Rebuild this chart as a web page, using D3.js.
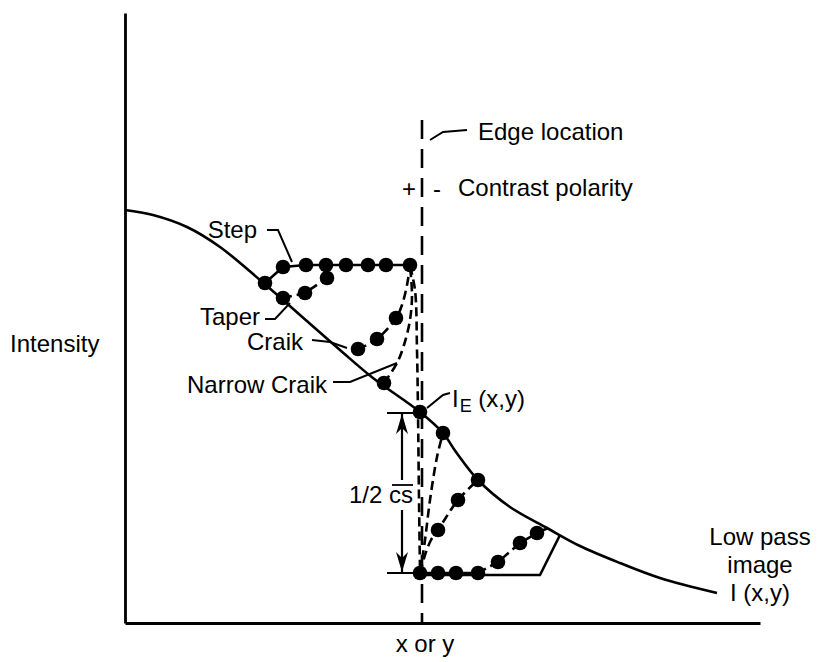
<!DOCTYPE html>
<html><head><meta charset="utf-8">
<script src="https://cdn.jsdelivr.net/npm/d3@7"></script>
<style>
body{margin:0;background:#fff}
text{font-family:"Liberation Sans",Arial,Helvetica,sans-serif;font-size:24px;fill:#000}
</style>
</head><body>
<svg id="c" width="820" height="662"></svg>
<script>
// ---- data (arbitrary units: position along x, intensity along y) ----
const lowPassX = [0, 5.6, 12.4, 19, 27, 35, 43, 49.6, 59, 63.6, 66.2, 70.6, 77, 84.4, 91, 99, 107, 118.4];
const lowPassY = [82.6, 81.6, 79.2, 75.2, 68.6, 61.6, 54.6, 49, 42.2, 38, 34.2, 28.6, 23.2, 19, 15.4, 12, 9, 6];

// + side (left of edge)
const stepLeftX = [28, 31.6, 36.2, 40.2, 44.2, 48.6, 52.2, 57];
const stepLeftY = [68, 71.2, 71.6, 71.6, 71.6, 71.6, 71.6, 71.6];
const taperLeftX = [31.6, 36, 40.4];
const taperLeftY = [65, 66, 69];
const taperLeftPathX = [31.6, 36, 40.4, 40.4];
const taperLeftPathY = [65, 66, 69, 71.4];
const craikLeftX = [46.6, 50.4, 54.2];
const craikLeftY = [54.8, 56.8, 61];
const craikLeftPathX = [46.6, 50.4, 54.2, 55.4, 56.4, 57];
const craikLeftPathY = [54.8, 56.8, 61, 63.6, 67.6, 71.4];
const narrowLeftX = [51.8];
const narrowLeftY = [48];
const narrowLeftPathX = [51.8, 54.4, 55.8, 57, 57.4, 57];
const narrowLeftPathY = [48, 52, 55.6, 60.6, 65.6, 71.4];
const stepDropX = [57, 58, 58.4, 58.6, 58.8, 59];
const stepDropY = [71.4, 66.6, 54.6, 42.2, 24.6, 10];

// - side (right of edge)
const taperRightX = [59, 62.6, 66.2, 70.6, 74.6, 79, 82.4];
const taperRightY = [10, 10, 10, 10, 12.2, 16, 18];
const taperRightSolidX = [59, 62.6, 66.2, 70.6];
const taperRightSolidY = [10, 10, 10, 10];
const taperRightDashX = [70.6, 74.6, 79, 82.4];
const taperRightDashY = [10, 12.2, 16, 18];
const taperRightEndX = [82.4, 84.6];
const taperRightEndY = [18, 19];
const stepRightX = [59, 83, 87];
const stepRightY = [9.6, 9.6, 17.6];
const craikRightX = [62.6, 66.6, 70.6];
const craikRightY = [18.6, 24.6, 28.6];
const craikRightPathX = [59, 60, 61.2, 62.6, 66.6, 70.6];
const craikRightPathY = [10, 13.6, 16.6, 18.6, 24.6, 28.6];
const narrowRightX = [63.6];
const narrowRightY = [38];
const narrowRightPathX = [59, 60, 61, 62.4, 63.6];
const narrowRightPathY = [10, 16.6, 24.6, 33.2, 38];

const edgeX = 59, edgeY = 42.2;          // I_E(x,y)
const edgeLineX = 59.4, edgeLineTop = 100.6;
const halfCsTop = 42, halfCsBottom = 10;  // 1/2 cs span

// ---- setup ----
const svg = d3.select("#c");
const x = d3.scaleLinear().domain([0, 127]).range([125, 760]);
const y = d3.scaleLinear().domain([0, 122]).range([623, 13]);
const zip = (a, b) => a.map((v, i) => [v, b[i]]);
const line = d3.line().x(d => x(d[0])).y(d => y(d[1]));
const smooth = d3.line().x(d => x(d[0])).y(d => y(d[1])).curve(d3.curveCatmullRom.alpha(0.5));

// axes (no ticks)
svg.append("g").attr("transform", "translate(125,0)")
  .call(d3.axisLeft(y).tickValues([]).tickSizeOuter(0))
  .call(g => g.select(".domain").attr("stroke", "#000").attr("stroke-width", 2.8));
svg.append("g").attr("transform", "translate(0,623)")
  .call(d3.axisBottom(x).tickValues([]).tickSizeOuter(0))
  .call(g => g.select(".domain").attr("stroke", "#000").attr("stroke-width", 2.8));

// edge location dashed line
svg.append("line")
  .attr("x1", x(edgeLineX)).attr("x2", x(edgeLineX))
  .attr("y1", y(edgeLineTop)).attr("y2", y(0))
  .attr("stroke", "#000").attr("stroke-width", 2.6).attr("stroke-dasharray", "19,10");

// low pass curve
svg.append("path").attr("d", smooth(zip(lowPassX, lowPassY)))
  .attr("fill", "none").attr("stroke", "#000").attr("stroke-width", 2.6);

const dash = "9,5";
function path(xs, ys, dashed, curved) {
  svg.append("path").attr("d", (curved ? smooth : line)(zip(xs, ys)))
    .attr("fill", "none").attr("stroke", "#000").attr("stroke-width", 2.6)
    .attr("stroke-dasharray", dashed ? dash : null);
}
path(stepLeftX, stepLeftY, false, false);
path(taperLeftPathX, taperLeftPathY, true, false);
path(craikLeftPathX, craikLeftPathY, true, true);
path(narrowLeftPathX, narrowLeftPathY, true, true);
path(stepDropX, stepDropY, true, true);
path(taperRightSolidX, taperRightSolidY, false, false);
path(taperRightDashX, taperRightDashY, true, false);
path(taperRightEndX, taperRightEndY, false, false);
path(stepRightX, stepRightY, false, false);
path(craikRightPathX, craikRightPathY, true, true);
path(narrowRightPathX, narrowRightPathY, true, true);

// dots
const dotSets = [
  [stepLeftX, stepLeftY], [taperLeftX, taperLeftY], [craikLeftX, craikLeftY],
  [narrowLeftX, narrowLeftY], [taperRightX, taperRightY], [craikRightX, craikRightY],
  [narrowRightX, narrowRightY], [[edgeX], [edgeY]]
];
dotSets.forEach(([xs, ys]) => {
  svg.append("g").selectAll("circle").data(zip(xs, ys)).join("circle")
    .attr("cx", d => x(d[0])).attr("cy", d => y(d[1])).attr("r", 7.3).attr("fill", "#000");
});

// leaders
const leaders = [
  [[61, 96.6], [63.6, 98.2], [68.4, 98.6]],
  [[28.4, 78.6], [30.6, 78.6], [33.4, 72.2]],
  [[28, 60.8], [30, 60.8], [33, 64]],
  [[37.4, 56.6], [41, 56.2], [44.4, 55]],
  [[41.6, 48.2], [45, 48.2], [54.4, 52]],
  [[60.4, 43], [63.6, 45.6], [65, 46]]
];
leaders.forEach(l => svg.append("path").attr("d", line(l))
  .attr("fill", "none").attr("stroke", "#000").attr("stroke-width", 2));

// 1/2 cs dimension
const ax = 55.4;
svg.append("line").attr("x1", x(52.4)).attr("x2", x(edgeX)).attr("y1", y(halfCsTop)).attr("y2", y(halfCsTop))
  .attr("stroke", "#000").attr("stroke-width", 2.2);
svg.append("line").attr("x1", x(52.4)).attr("x2", x(edgeX)).attr("y1", y(halfCsBottom)).attr("y2", y(halfCsBottom))
  .attr("stroke", "#000").attr("stroke-width", 2.2);
svg.append("line").attr("x1", x(ax)).attr("x2", x(ax)).attr("y1", y(halfCsTop)).attr("y2", y(28.6))
  .attr("stroke", "#000").attr("stroke-width", 2.2);
svg.append("line").attr("x1", x(ax)).attr("x2", x(ax)).attr("y1", y(22.6)).attr("y2", y(halfCsBottom))
  .attr("stroke", "#000").attr("stroke-width", 2.2);
const tipT = y(halfCsTop) + 1, tipB = y(halfCsBottom) - 1, cx = x(ax);
svg.append("path").attr("d", `M${cx},${tipT}L${cx - 6},${tipT + 20}L${cx},${tipT + 14}L${cx + 6},${tipT + 20}Z`).attr("fill", "#000");
svg.append("path").attr("d", `M${cx},${tipB}L${cx - 6},${tipB - 20}L${cx},${tipB - 14}L${cx + 6},${tipB - 20}Z`).attr("fill", "#000");

// texts
function label(t, dx, dy, anchor) {
  return svg.append("text").attr("x", x(dx)).attr("y", y(dy)).attr("text-anchor", anchor || "start").text(t);
}
label("Edge location", 70.6, 96.6);
label("Contrast polarity", 66.6, 85.4);
label("+", 56.8, 85.2, "middle");
label("-", 62.4, 85.2, "middle");
label("Step", 26.4, 77, "end");
label("Taper", 27, 59.6, "end");
label("Craik", 35.6, 54.6, "end");
label("Narrow Craik", 40.4, 46, "end");
const ie = svg.append("text").attr("x", x(65.4)).attr("y", y(43.2));
ie.append("tspan").text("I");
ie.append("tspan").attr("font-size", 18).attr("dy", 5).attr("dx", 1).text("E");
ie.append("tspan").attr("dy", -5).text(" (x,y)");
label("1/2 cs", 57.6, 24, "end");
svg.append("line").attr("x1", x(53.4)).attr("x2", x(57.6)).attr("y1", y(27.6)).attr("y2", y(27.6))
  .attr("stroke", "#000").attr("stroke-width", 1.8);
label("Low pass", 127, 15.6, "middle");
label("image", 127, 10, "middle");
label("I (x,y)", 127, 4.4, "middle");
svg.append("text").attr("x", 10).attr("y", 352).text("Intensity");
svg.append("text").attr("x", 425).attr("y", 652).attr("text-anchor", "middle").text("x or y");
</script>
</body></html>
